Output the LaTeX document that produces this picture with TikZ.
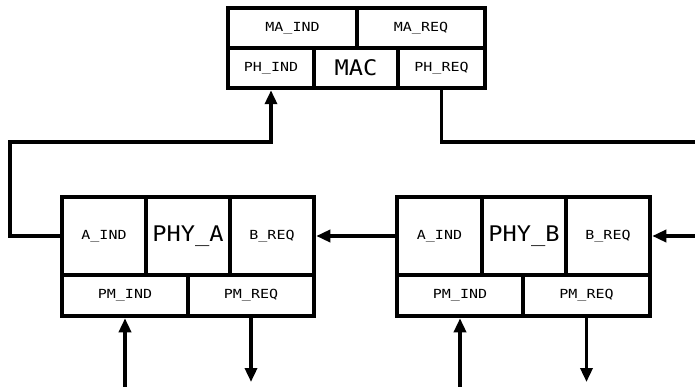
\documentclass[tikz,border=0pt]{standalone}
\usepackage{fontspec}
\usetikzlibrary{arrows.meta,positioning,calc}
\newfontfamily\cadfont[FakeStretch=1.2]{DejaVu Sans Mono}
\newfontfamily\cadbigfont[FakeStretch=1.1]{DejaVu Sans Mono}
\tikzset{
    cell/.style={draw, line width=4.5pt, inner sep=0pt, font=\cadfont\fontsize{12.5}{14}\selectfont},
    bigcell/.style={cell, font=\cadbigfont\fontsize{21.5}{24}\selectfont},
    conn/.style={line width=3.4pt},
    >={Triangle[length=14pt,width=12pt]}
}

\begin{document}
\begin{tikzpicture}[x=1pt,y=-1pt]
    \useasboundingbox (0,0) rectangle (695,387);
    % MAC block
    \node[cell, minimum width=129pt, minimum height=40pt] (maind) at (292.5,28) {MA\_IND};
    \node[cell, minimum width=128pt, minimum height=40pt] (mareq) at (421,28) {MA\_REQ};
    \node[cell, minimum width=86pt, minimum height=40pt] (phind) at (271,68) {PH\_IND};
    \node[bigcell, minimum width=84pt, minimum height=40pt] (mac) at (356,68) {MAC};
    \node[cell, minimum width=87pt, minimum height=40pt] (phreq) at (441.5,68) {PH\_REQ};
    % PHY_A block
    \node[cell, minimum width=84pt, minimum height=78pt] (aindA) at (104,236) {A\_IND};
    \node[bigcell, minimum width=84pt, minimum height=78pt] (phyA) at (188,236) {PHY\_A};
    \node[cell, minimum width=84pt, minimum height=78pt] (breqA) at (272,236) {B\_REQ};
    \node[cell, minimum width=126pt, minimum height=41pt] (pmindA) at (125,295.5) {PM\_IND};
    \node[cell, minimum width=126pt, minimum height=41pt] (pmreqA) at (251,295.5) {PM\_REQ};
    % PHY_B block
    \node[cell, minimum width=85pt, minimum height=78pt] (aindB) at (439.5,236) {A\_IND};
    \node[bigcell, minimum width=84pt, minimum height=78pt] (phyB) at (524,236) {PHY\_B};
    \node[cell, minimum width=84pt, minimum height=78pt] (breqB) at (608,236) {B\_REQ};
    \node[cell, minimum width=126pt, minimum height=41pt] (pmindB) at (460,295.5) {PM\_IND};
    \node[cell, minimum width=127pt, minimum height=41pt] (pmreqB) at (586.5,295.5) {PM\_REQ};
    % free ends
    \coordinate (bendA) at (10,142);
    \coordinate (macout) at (695,142);
    \coordinate (rightin) at (695,236);
    \coordinate (pminA) at (125,387);
    \coordinate (pmoutA) at (251,382);
    \coordinate (pminB) at (460,387);
    \coordinate (pmoutB) at (586.5,382);
    % connectors
    \draw[conn,->] (aindA.west) -| (bendA) -| (phind.south);
    \draw[conn] (phreq.south) |- (macout);
    \draw[conn,->] (aindB.west) -- (breqA.east);
    \draw[conn,->] (rightin) -- (breqB.east);
    \draw[conn,->] (pminA) -- (pmindA.south);
    \draw[conn,->] (pmreqA.south) -- (pmoutA);
    \draw[conn,->] (pminB) -- (pmindB.south);
    \draw[conn,->] (pmreqB.south) -- (pmoutB);
\end{tikzpicture}
\end{document}
